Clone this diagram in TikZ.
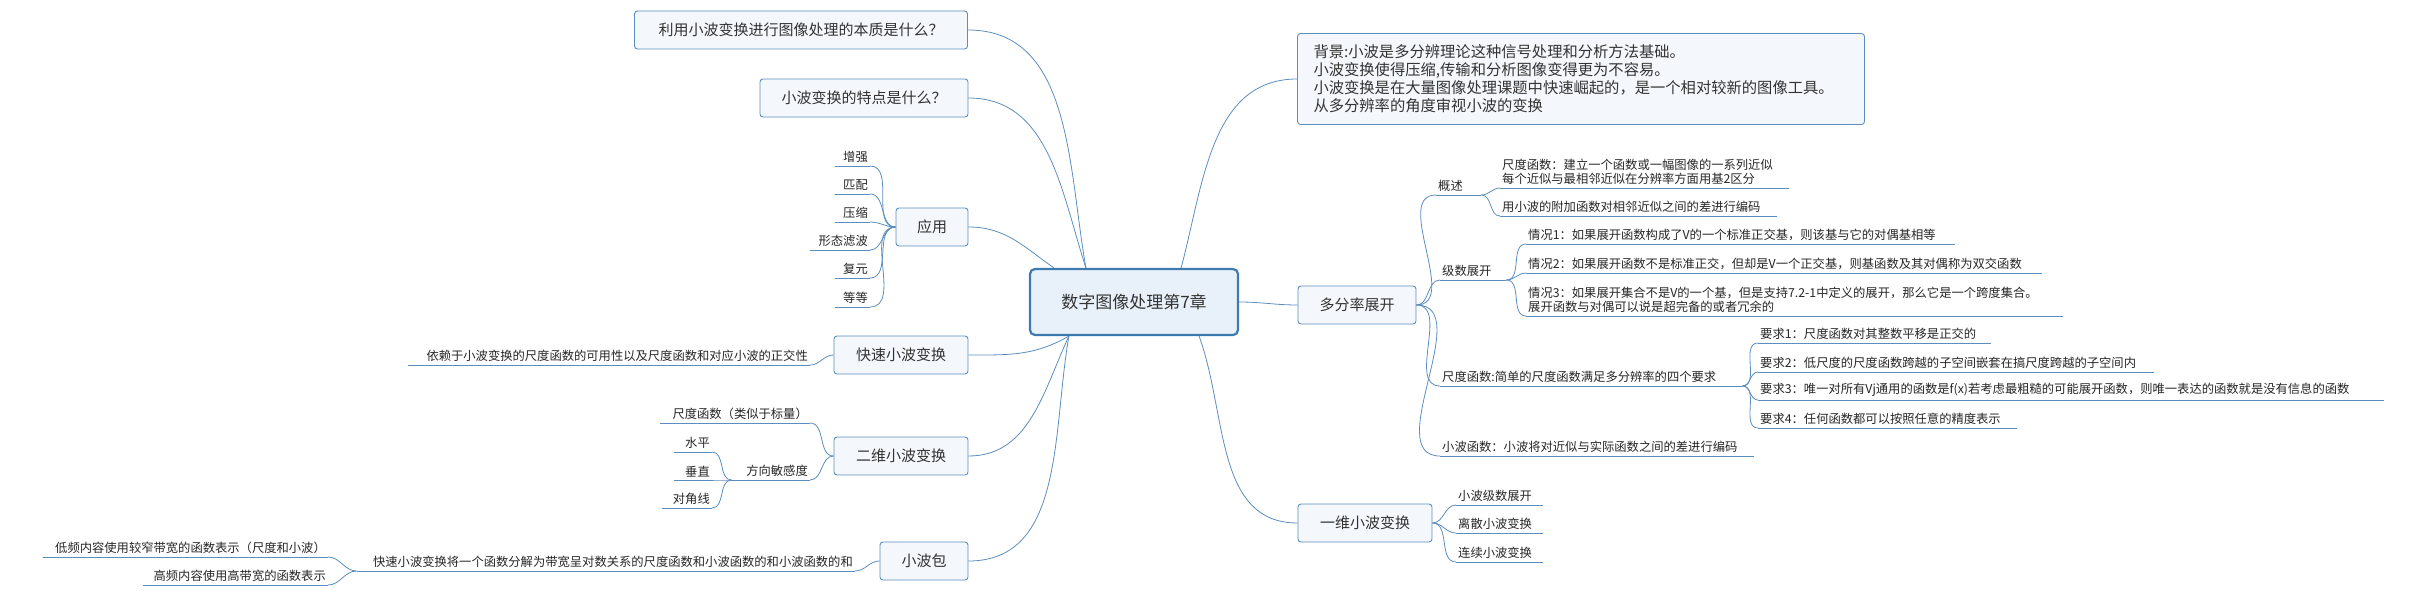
\documentclass[tikz,border=0pt]{standalone}
\usepackage{fontspec}
\setmainfont{Noto Sans CJK SC}
\usetikzlibrary{positioning, calc}
\definecolor{edgeblue}{HTML}{5B8DBE}
\definecolor{boxfill}{HTML}{F4F8FC}
\definecolor{rootfill}{HTML}{E8F1FA}
\definecolor{rootline}{HTML}{3F7AAE}

\begin{document}
\begin{tikzpicture}[
    x=1pt, y=1pt,
    root/.style={rectangle, rounded corners=5pt, draw=rootline, line width=2.2pt, fill=rootfill, minimum width=208pt, minimum height=66pt, font=\fontsize{17}{19}\selectfont, text=black!80},
    topic/.style={rectangle, rounded corners=3pt, draw=edgeblue, line width=0.9pt, fill=boxfill, minimum height=38pt, font=\fontsize{15}{17}\selectfont, text=black!80},
    rleaf/.style={anchor=south west, inner xsep=2pt, inner ysep=3pt, align=left, font=\fontsize{12.3}{14.5}\selectfont, text=black!85},
    lleaf/.style={anchor=south east, inner xsep=2pt, inner ysep=3pt, align=right, font=\fontsize{12.3}{14.5}\selectfont, text=black!85},
    link/.style={draw=edgeblue, line width=0.8pt}
]
\useasboundingbox (0,0) rectangle (2425,-596);

% Root and main topics
\node (root) [root] at (1134,-302) {数字图像处理第7章};
\node (ques1) [topic, minimum width=333pt] at (801,-30) {利用小波变换进行图像处理的本质是什么？};
\node (ques2) [topic, minimum width=208pt] at (864,-98) {小波变换的特点是什么？};
\node (apply) [topic, minimum width=72pt] at (932,-227) {应用};
\node (fwt) [topic, minimum width=134pt] at (901,-355) {快速小波变换};
\node (wt2d) [topic, minimum width=134pt] at (901,-456) {二维小波变换};
\node (packet) [topic, minimum width=88pt] at (924,-561) {小波包};
\node (backgr) [topic, minimum width=567pt, minimum height=91pt, text width=535pt, align=left, font=\fontsize{15.3}{18}\selectfont] at (1581,-79) {背景:小波是多分辨理论这种信号处理和分析方法基础。\\小波变换使得压缩,传输和分析图像变得更为不容易。\\小波变换是在大量图像处理课题中快速崛起的，是一个相对较新的图像工具。\\从多分辨率的角度审视小波的变换};
\node (multires) [topic, minimum width=118pt] at (1357,-305) {多分率展开};
\node (wt1d) [topic, minimum width=134pt] at (1365,-523) {一维小波变换};

% Left leaves
\node (enh) [lleaf, text width=31pt] at (870,-166) {增强};
\node (match) [lleaf, text width=31pt] at (870,-194) {匹配};
\node (compr) [lleaf, text width=31pt] at (870,-222) {压缩};
\node (morph) [lleaf, text width=56pt] at (870,-250) {形态滤波};
\node (restore) [lleaf, text width=31pt] at (870,-278) {复元};
\node (etc) [lleaf, text width=31pt] at (870,-307) {等等};
\node (fwtdep) [lleaf, text width=398pt] at (810,-365) {依赖于小波变换的尺度函数的可用性以及尺度函数和对应小波的正交性};
\node (scalar) [lleaf, text width=146pt] at (810,-423) {尺度函数（类似于标量）};
\node (direct) [lleaf, text width=74pt] at (810,-480) {方向敏感度};
\node (horiz) [lleaf, text width=34pt] at (712,-452) {水平};
\node (vert) [lleaf, text width=34pt] at (712,-480) {垂直};
\node (diag) [lleaf, text width=46pt] at (712,-508) {对角线};
\node (decomp) [lleaf, text width=494pt] at (855,-571) {快速小波变换将一个函数分解为带宽呈对数关系的尺度函数和小波函数的和小波函数的和};
\node (lowfreq) [lleaf, text width=281pt] at (328,-557) {低频内容使用较窄带宽的函数表示（尺度和小波）};
\node (highfreq) [lleaf, text width=181pt] at (328,-585) {高频内容使用高带宽的函数表示};

% Right leaves
\node (overview) [rleaf, text width=41pt] at (1436,-195) {概述};
\node (scaling) [rleaf, text width=285pt] at (1500,-188) {尺度函数：建立一个函数或一幅图像的一系列近似\\每个近似与最相邻近似在分辨率方面用基2区分};
\node (detail) [rleaf, text width=273pt] at (1500,-216) {用小波的附加函数对相邻近似之间的差进行编码};
\node (series) [rleaf, text width=62pt] at (1440,-280) {级数展开};
\node (case1) [rleaf, text width=425pt] at (1526,-244) {情况1：如果展开函数构成了V的一个标准正交基，则该基与它的对偶基相等};
\node (case2) [rleaf, text width=512pt] at (1526,-273) {情况2：如果展开函数不是标准正交，但却是V一个正交基，则基函数及其对偶称为双交函数};
\node (case3) [rleaf, text width=533pt] at (1526,-316) {情况3：如果展开集合不是V的一个基，但是支持7.2-1中定义的展开，那么它是一个跨度集合。\\展开函数与对偶可以说是超完备的或者冗余的};
\node (simple) [rleaf, text width=298pt] at (1440,-386) {尺度函数:简单的尺度函数满足多分辨率的四个要求};
\node (req1) [rleaf, text width=229pt] at (1758,-343) {要求1：尺度函数对其整数平移是正交的};
\node (req2) [rleaf, text width=392pt] at (1758,-372) {要求2：低尺度的尺度函数跨越的子空间嵌套在搞尺度跨越的子空间内};
\node (req3) [rleaf, text width=622pt] at (1758,-400) {要求3：唯一对所有Vj通用的函数是f(x)若考虑最粗糙的可能展开函数，则唯一表达的函数就是没有信息的函数};
\node (req4) [rleaf, text width=255pt] at (1758,-428) {要求4：任何函数都可以按照任意的精度表示};
\node (wavefn) [rleaf, text width=310pt] at (1440,-456) {小波函数：小波将对近似与实际函数之间的差进行编码};
\node (wseries) [rleaf, text width=83pt] at (1456,-505) {小波级数展开};
\node (discrete) [rleaf, text width=83pt] at (1456,-533) {离散小波变换};
\node (contin) [rleaf, text width=83pt] at (1456,-562) {连续小波变换};

% Underlines
\foreach \n in {enh,match,compr,morph,restore,etc,fwtdep,scalar,direct,horiz,vert,diag,decomp,lowfreq,highfreq,
  overview,scaling,detail,series,case1,case2,case3,simple,req1,req2,req3,req4,wavefn,wseries,discrete,contin}
  \draw [link] (\n.south west) -- (\n.south east);

% Root edges
\draw [link] ([xshift=57pt]root.north west) to[out=100,in=0] (ques1.east);
\draw [link] ([xshift=57pt]root.north west) to[out=108,in=0] (ques2.east);
\draw [link] ([xshift=25pt]root.north west) to[out=145,in=0] (apply.east);
\draw [link] ([xshift=40pt]root.south west) to[out=-150,in=0] (fwt.east);
\draw [link] ([xshift=40pt]root.south west) to[out=-115,in=0] (wt2d.east);
\draw [link] ([xshift=40pt]root.south west) to[out=-100,in=0] (packet.east);
\draw [link] ([xshift=-58pt]root.north east) to[out=75,in=180] (backgr.west);
\draw [link] (root.east) to[out=0,in=180] (multires.west);
\draw [link] ([xshift=-40pt]root.south east) to[out=-70,in=180] (wt1d.west);

% Left edges
\foreach \n in {enh,match,compr,morph,restore,etc}
  \draw [link] (apply.west) to[out=180,in=0] (\n.south east);
\draw [link] (fwt.west) to[out=180,in=0] (fwtdep.south east);
\draw [link] (wt2d.west) to[out=180,in=0] (scalar.south east);
\draw [link] (wt2d.west) to[out=180,in=0] (direct.south east);
\foreach \n in {horiz,vert,diag}
  \draw [link] (direct.south west) to[out=180,in=0] (\n.south east);
\draw [link] (packet.west) to[out=180,in=0] (decomp.south east);
\draw [link] (decomp.south west) to[out=180,in=0] (lowfreq.south east);
\draw [link] (decomp.south west) to[out=180,in=0] (highfreq.south east);

% Right edges
\foreach \n in {overview,series,simple,wavefn}
  \draw [link] (multires.east) to[out=0,in=180] (\n.south west);
\foreach \n in {scaling,detail}
  \draw [link] (overview.south east) to[out=0,in=180] (\n.south west);
\foreach \n in {case1,case2,case3}
  \draw [link] (series.south east) to[out=0,in=180] (\n.south west);
\foreach \n in {req1,req2,req3,req4}
  \draw [link] (simple.south east) to[out=0,in=180] (\n.south west);
\foreach \n in {wseries,discrete,contin}
  \draw [link] (wt1d.east) to[out=0,in=180] (\n.south west);

\end{tikzpicture}
\end{document}
